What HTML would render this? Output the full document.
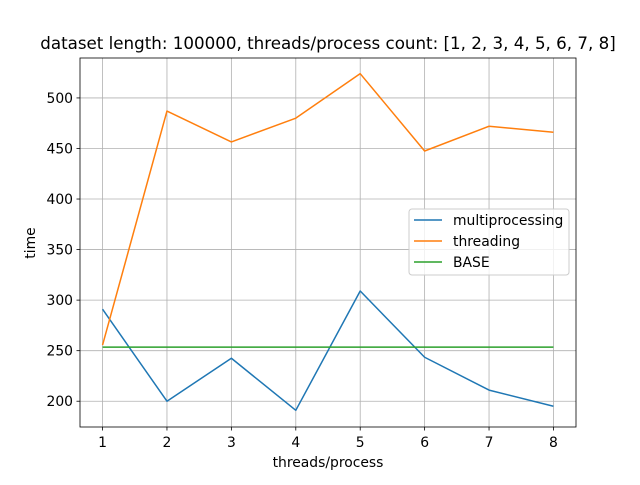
<!DOCTYPE html>
<html><head><meta charset="utf-8"><style>
body{margin:0;background:#fff;font-family:"Liberation Sans","DejaVu Sans",sans-serif}
svg text{font-family:"DejaVu Sans","Liberation Sans",sans-serif}
</style></head><body>
<svg id="chart" width="640" height="480" xmlns="http://www.w3.org/2000/svg">
<rect width="640" height="480" fill="#fff"/>
<g id="grid"></g><g id="series"></g><g id="axes"></g>
<text x="328" y="49" font-size="16.7" text-anchor="middle">dataset length: 100000, threads/process count: [1, 2, 3, 4, 5, 6, 7, 8]</text>
<text x="328" y="467" font-size="13.9" text-anchor="middle">threads/process</text>
<text x="35" y="243" font-size="13.9" text-anchor="middle" transform="rotate(-90 35 243)">time</text>
<g>
<rect x="409" y="209" width="160" height="66" rx="3" fill="#fff" fill-opacity="0.8" stroke="#ccc"/>
<line x1="414" y1="220" x2="442" y2="220" stroke="#1f77b4" stroke-width="1.5"/>
<text x="453" y="225" font-size="13.9">multiprocessing</text>
<line x1="414" y1="241" x2="442" y2="241" stroke="#ff7f0e" stroke-width="1.5"/>
<text x="453" y="246" font-size="13.9">threading</text>
<line x1="414" y1="262" x2="442" y2="262" stroke="#2ca02c" stroke-width="1.5"/>
<text x="453" y="267" font-size="13.9">BASE</text>
</g>
</svg>
<script>
const categories=[1,2,3,4,5,6,7,8];
const multiprocessing=[291,200,242.5,191,309,243.5,211,195];
const threading=[255.5,487,456.5,480,524,447.5,472,466];
const base=[253.5,253.5,253.5,253.5,253.5,253.5,253.5,253.5];
const yTicks=[200,250,300,350,400,450,500];
const xTicks=[1,2,3,4,5,6,7,8];
const L=80,R=576,T=58,B=427,xMin=0.65,xMax=8.35,yMin=174.5,yMax=539.5;
const NS="http://www.w3.org/2000/svg";
const xs=v=>L+(v-xMin)/(xMax-xMin)*(R-L);
const ys=v=>B-(v-yMin)/(yMax-yMin)*(B-T);
function mk(tag,attrs,parent){const e=document.createElementNS(NS,tag);for(const k in attrs)e.setAttribute(k,attrs[k]);parent.appendChild(e);return e;}
const grid=document.getElementById('grid'),axes=document.getElementById('axes'),ser=document.getElementById('series');
xTicks.forEach(t=>{const x=xs(t);
 const g=mk('line',{x1:x,x2:x,y1:T,y2:B,stroke:'#b0b0b0','stroke-width':0.8},grid);
 
 
 mk('line',{x1:x,x2:x,y1:B,y2:B+3.5,stroke:'#000','stroke-width':0.8},axes);
 const tx=mk('text',{x:x,y:B+20,'font-size':13.9,'text-anchor':'middle'},axes);tx.textContent=t;
 
 });
yTicks.forEach(t=>{const y=ys(t);
 const g=mk('line',{x1:L,x2:R,y1:y,y2:y,stroke:'#b0b0b0','stroke-width':0.8},grid);
 
 
 mk('line',{x1:L-3.5,x2:L,y1:y,y2:y,stroke:'#000','stroke-width':0.8},axes);
 const tx=mk('text',{x:L-7,y:y+5,'font-size':13.9,'text-anchor':'end'},axes);tx.textContent=t;
 
 });
const fr=mk('rect',{x:L,y:T,width:R-L,height:B-T,fill:'none',stroke:'#000','stroke-width':0.8},axes);


function line(data,color,name){const p=mk('polyline',{points:data.map((v,i)=>xs(categories[i])+','+ys(v)).join(' '),fill:'none',stroke:color,'stroke-width':1.5,'stroke-linejoin':'round'},ser);
 
 }
line(multiprocessing,'#1f77b4','multiprocessing-line');
line(threading,'#ff7f0e','threading-line');
line(base,'#2ca02c','base-line');
</script>
</body></html>
